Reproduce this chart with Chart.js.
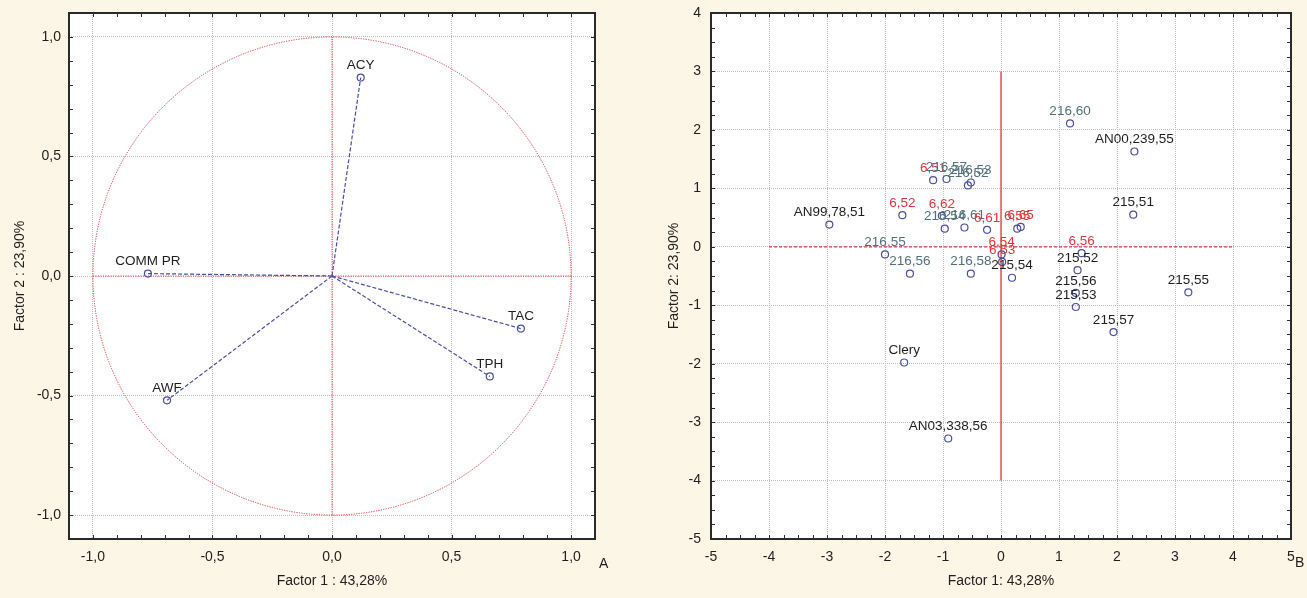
<!DOCTYPE html>
<html><head><meta charset="utf-8">
<script src="https://cdn.jsdelivr.net/npm/chart.js@4.4.1/dist/chart.umd.min.js"></script>
<style>
html,body{margin:0;padding:0;background:#fcf6e6;width:1307px;height:598px;overflow:hidden}
#a{position:absolute;left:0;top:0}
#b{position:absolute;left:640px;top:0}
.lab{position:absolute;font:14px "Liberation Sans",Arial,sans-serif;color:#1e1e1e;line-height:14px}
</style></head><body>
<canvas id="a" width="640" height="598"></canvas>
<canvas id="b" width="667" height="598"></canvas>
<div class="lab" style="left:599px;top:556px">A</div>
<div class="lab" style="left:1295px;top:555px">B</div>
<script>
// ---------- data: left (loadings) ----------
const loadingNames = ['ACY', 'COMM PR', 'TAC', 'TPH', 'AWF'];
const loadingF1 = [0.12, -0.77, 0.79, 0.66, -0.69];
const loadingF2 = [0.83, 0.01, -0.22, -0.42, -0.52];
const leftTicks = [-1.0, -0.5, 0.0, 0.5, 1.0];

// ---------- data: right (scores) ----------
const sampleNames = ['AN99,78,51','6,52','6,51','216,57','216,52','216,53','6,62','216,54','216,61','6,61','6,55','6,65',
  '216,55','216,56','216,58','6,54','6,53','215,54','216,60','AN00,239,55','215,51','6,56','215,52','215,56','215,53',
  '215,57','215,55','Clery','AN03,338,56'];
const sampleF1 = [-2.96,-1.70,-1.17,-0.94,-0.57,-0.52,-1.02,-0.97,-0.63,-0.24,0.28,0.34,
  -2.00,-1.57,-0.52,0.01,0.02,0.19,1.19,2.30,2.28,1.39,1.32,1.29,1.29,
  1.94,3.23,-1.67,-0.91];
const sampleF2 = [0.38,0.54,1.14,1.16,1.05,1.10,0.53,0.31,0.33,0.29,0.31,0.34,
  -0.13,-0.46,-0.46,-0.13,-0.26,-0.53,2.11,1.63,0.55,-0.11,-0.40,-0.79,-1.03,
  -1.46,-0.78,-1.98,-3.28];
const sampleGroup = ['k','r','r','t','t','t','r','t','t','r','r','r',
  't','t','t','r','r','k','t','k','k','r','k','k','k',
  'k','k','k','k'];
const rightXTicks = [-5,-4,-3,-2,-1,0,1,2,3,4,5];
const rightYTicks = [-5,-4,-3,-2,-1,0,1,2,3,4];
const refLineH = [-4, 4];   // red dashed line along F2 = 0
const refLineV = [-4, 3];   // red line along F1 = 0

const FONT = '"Liberation Sans", Arial, sans-serif';
const groupColor = {k:'#1e1e1e', r:'#e8343c', t:'#52707a'};
const ptColor = '#4a4ea3';
const red = '#e23a42';

function comma(v){ return v.toFixed(1).replace('.', ','); }
function noPad(s){ s.paddingTop = 0; s.paddingBottom = 0; s.paddingLeft = 0; s.paddingRight = 0; }

function framePlugin(minorStep){
  return {
    id:'frame'+minorStep,
    beforeDraw(chart){
      const a = chart.chartArea, c = chart.ctx;
      c.save(); c.fillStyle = '#ffffff'; c.fillRect(a.left, a.top, a.right-a.left, a.bottom-a.top); c.restore();
    },
    afterDraw(chart){
      const a = chart.chartArea, c = chart.ctx, xs = chart.scales.x, ys = chart.scales.y;
      c.save();
      c.strokeStyle = '#2a2a2a'; c.lineWidth = 1;
      c.beginPath();
      const nx = Math.round((xs.max - xs.min)/minorStep);
      for (let i=0;i<=nx;i++){
        const px = Math.round(xs.getPixelForValue(xs.min + i*minorStep)) + 0.5;
        c.moveTo(px, a.bottom); c.lineTo(px, a.bottom-4);
        c.moveTo(px, a.top); c.lineTo(px, a.top+4);
      }
      const ny = Math.round((ys.max - ys.min)/minorStep);
      for (let i=0;i<=ny;i++){
        const py = Math.round(ys.getPixelForValue(ys.min + i*minorStep)) + 0.5;
        c.moveTo(a.left, py); c.lineTo(a.left+4, py);
        c.moveTo(a.right, py); c.lineTo(a.right-4, py);
      }
      c.stroke();
      c.lineWidth = 2; c.strokeStyle = '#2a2a2a';
      c.strokeRect(a.left, a.top, a.right-a.left, a.bottom-a.top);
      c.restore();
    }
  };
}

const tickFont = {family: FONT, size: 14};
const titleFont = {family: FONT, size: 14};

// ---------- left chart ----------
const leftRef = {
  id:'leftRef',
  beforeDatasetsDraw(chart){
    const c = chart.ctx, xs = chart.scales.x, ys = chart.scales.y;
    const cx = xs.getPixelForValue(0), cy = ys.getPixelForValue(0);
    const rx = xs.getPixelForValue(1) - cx, ry = cy - ys.getPixelForValue(1);
    c.save();
    c.strokeStyle = red; c.lineWidth = 1; c.setLineDash([1.2, 1.3]);
    c.beginPath(); c.ellipse(cx, cy, rx, ry, 0, 0, Math.PI*2); c.stroke();
    c.beginPath();
    c.moveTo(xs.getPixelForValue(leftTicks[0]), cy); c.lineTo(xs.getPixelForValue(leftTicks[leftTicks.length-1]), cy);
    c.moveTo(cx, ys.getPixelForValue(leftTicks[0])); c.lineTo(cx, ys.getPixelForValue(leftTicks[leftTicks.length-1]));
    c.stroke();
    c.restore();
  },
  afterDatasetsDraw(chart){
    const c = chart.ctx;
    c.save(); c.font = '13.5px ' + FONT; c.fillStyle = '#1e1e1e'; c.textAlign = 'center'; c.textBaseline = 'middle';
    loadingNames.forEach((n,i)=>{
      const el = chart.getDatasetMeta(i).data[1];
      c.fillText(n, el.x, el.y - 12);
    });
    c.restore();
  }
};

new Chart(document.getElementById('a'), {
  type:'scatter',
  data:{datasets: loadingNames.map((n,i)=>({
    label:n, type:'line', showLine:true, fill:false,
    data:[{x:0,y:0},{x:loadingF1[i],y:loadingF2[i]}],
    borderColor:ptColor, borderWidth:1.2, borderDash:[4,2],
    pointRadius:[0,3.5], pointBorderColor:ptColor, pointBackgroundColor:'rgba(0,0,0,0)', pointBorderWidth:1.2
  }))},
  options:{
    responsive:false, animation:false, events:[],
    layout:{padding:{top:13, right:45, left:0, bottom:0}},
    plugins:{legend:{display:false}, tooltip:{enabled:false}},
    scales:{
      x:{type:'linear', min:-1.1, max:1.1,
        afterBuildTicks:s=>{ s.ticks = leftTicks.map(v=>({value:v})); },
        afterFit:s=>{ s.height = 59; noPad(s); },
        grid:{color:'#bdbdbd', drawTicks:false, lineWidth:1},
        border:{display:false, dash:[1,1]},
        ticks:{padding:10, color:'#1e1e1e', font:tickFont, callback:v=>comma(v), maxRotation:0, autoSkip:false},
        title:{display:true, text:'Factor 1 : 43,28%', color:'#1e1e1e', font:titleFont, padding:{top:0,bottom:8}}
      },
      y:{type:'linear', min:-1.1, max:1.1,
        afterBuildTicks:s=>{ s.ticks = leftTicks.map(v=>({value:v})); },
        afterFit:s=>{ s.width = 69; noPad(s); },
        grid:{color:'#bdbdbd', drawTicks:false, lineWidth:1},
        border:{display:false, dash:[1,1]},
        ticks:{padding:8, color:'#1e1e1e', font:tickFont, callback:v=>comma(v), autoSkip:false},
        title:{display:true, text:'Factor 2 : 23,90%', color:'#1e1e1e', font:titleFont, padding:{top:12,bottom:0}}
      }
    }
  },
  plugins:[framePlugin(0.1), leftRef]
});

// ---------- right chart ----------
const rightLabels = {
  id:'rightLabels',
  afterDatasetsDraw(chart){
    const c = chart.ctx, meta = chart.getDatasetMeta(0);
    c.save(); c.font = '13.5px ' + FONT; c.textAlign = 'center'; c.textBaseline = 'middle';
    sampleNames.forEach((n,i)=>{
      const el = meta.data[i];
      c.fillStyle = groupColor[sampleGroup[i]];
      c.fillText(n, el.x, el.y - 12);
    });
    c.restore();
  }
};

new Chart(document.getElementById('b'), {
  type:'scatter',
  data:{datasets:[
    {label:'samples', data: sampleNames.map((n,i)=>({x:sampleF1[i], y:sampleF2[i]})),
     pointRadius:3.5, pointBorderColor:ptColor, pointBackgroundColor:'rgba(0,0,0,0)', pointBorderWidth:1.2, showLine:false},
    {label:'h0', type:'line', data: refLineH.map(v=>({x:v, y:0})), borderColor:red, borderWidth:1.3, borderDash:[3,2], pointRadius:0, fill:false},
    {label:'v0', type:'line', data: refLineV.map(v=>({x:0, y:v})), borderColor:red, borderWidth:1.3, pointRadius:0, fill:false}
  ]},
  options:{
    responsive:false, animation:false, events:[],
    layout:{padding:{top:13, right:16, left:0, bottom:0}},
    plugins:{legend:{display:false}, tooltip:{enabled:false}},
    scales:{
      x:{type:'linear', min:rightXTicks[0], max:rightXTicks[rightXTicks.length-1],
        afterBuildTicks:s=>{ s.ticks = rightXTicks.map(v=>({value:v})); },
        afterFit:s=>{ s.height = 59; noPad(s); },
        grid:{color:'#bdbdbd', drawTicks:false, lineWidth:1},
        border:{display:false, dash:[1,1]},
        ticks:{padding:10, color:'#1e1e1e', font:tickFont, maxRotation:0, autoSkip:false},
        title:{display:true, text:'Factor 1: 43,28%', color:'#1e1e1e', font:titleFont, padding:{top:0,bottom:8}}
      },
      y:{type:'linear', min:rightYTicks[0], max:rightYTicks[rightYTicks.length-1],
        afterBuildTicks:s=>{ s.ticks = rightYTicks.map(v=>({value:v})); },
        afterFit:s=>{ s.width = 71; noPad(s); },
        grid:{color:'#bdbdbd', drawTicks:false, lineWidth:1},
        border:{display:false, dash:[1,1]},
        ticks:{padding:10, color:'#1e1e1e', font:tickFont, autoSkip:false},
        title:{display:true, text:'Factor 2: 23,90%', color:'#1e1e1e', font:titleFont, padding:{top:26,bottom:0}}
      }
    }
  },
  plugins:[framePlugin(0.25), rightLabels]
});
</script>
</body></html>
